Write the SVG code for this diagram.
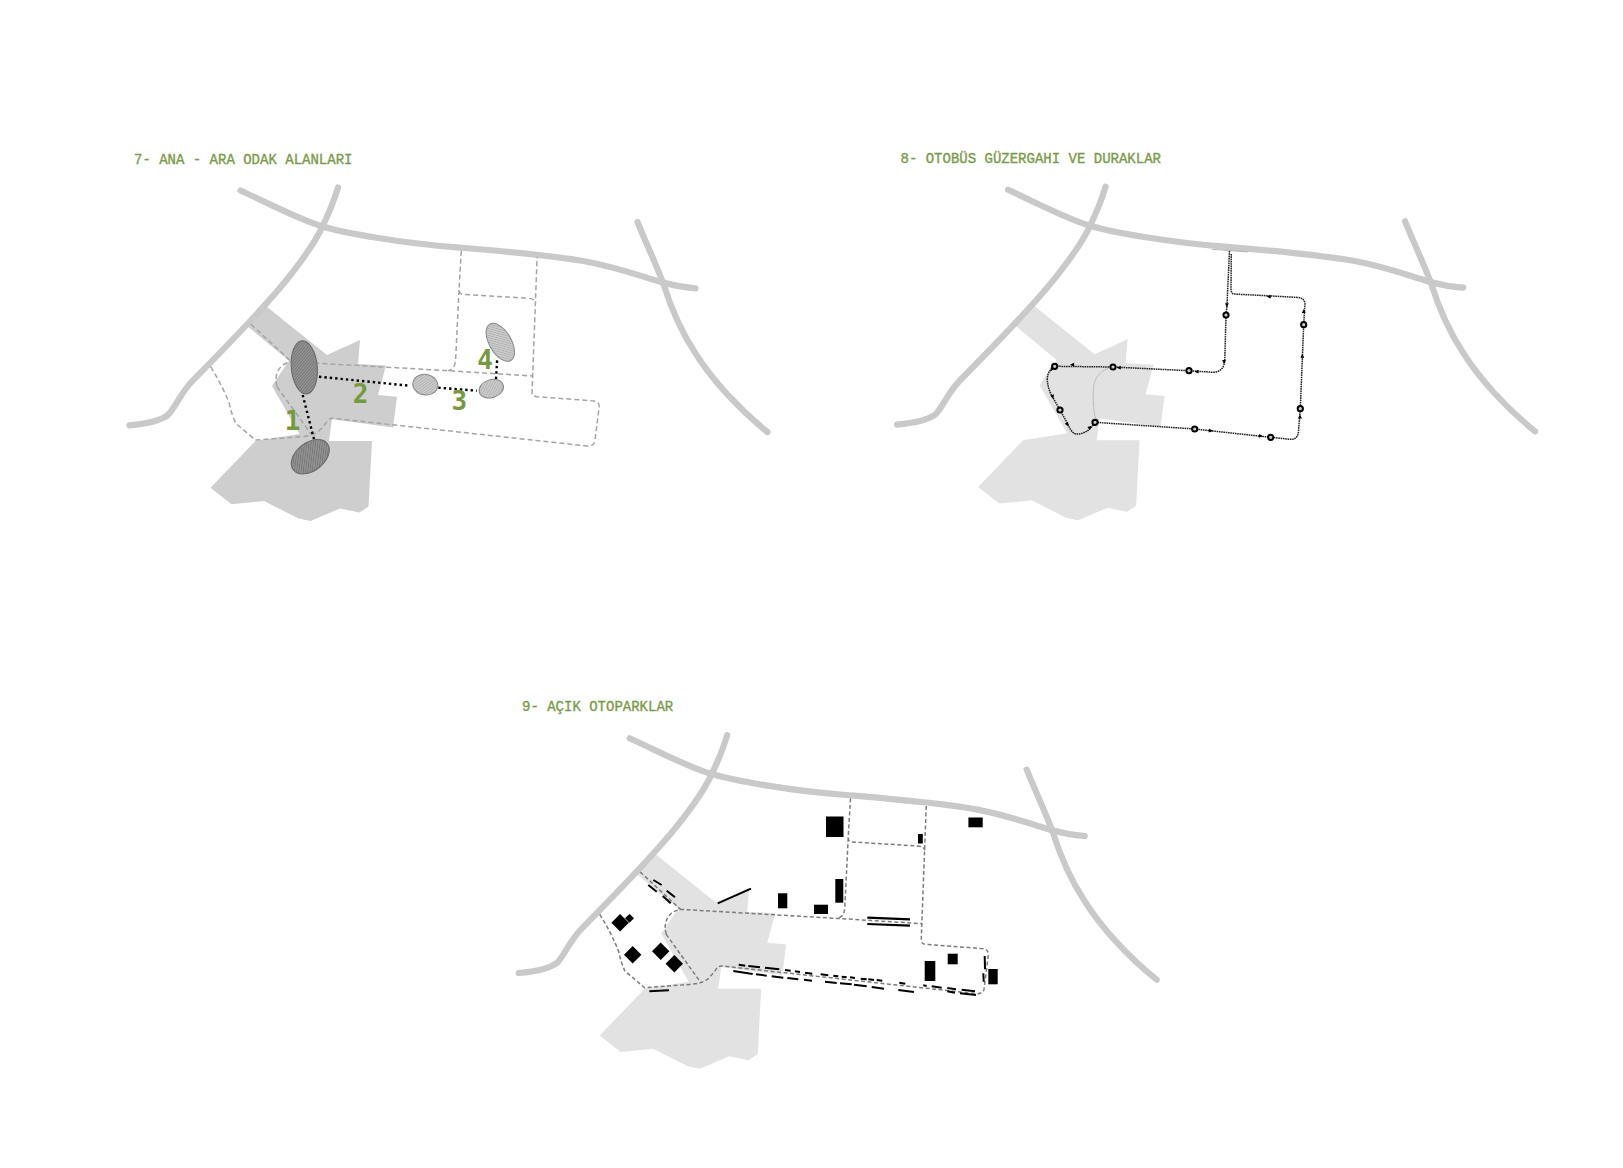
<svg xmlns="http://www.w3.org/2000/svg" xmlns:xlink="http://www.w3.org/1999/xlink" width="1623" height="1168" viewBox="0 0 1623 1168">
<style>
.title{font-family:"Liberation Mono",monospace;font-size:14px;fill:#7a9a4a;stroke:#7a9a4a;stroke-width:.35}
.num{font-family:"DejaVu Sans Mono",monospace;font-size:26px;font-weight:bold;fill:#76993f;text-anchor:middle}
.road{fill:none;stroke:#c9c9c9;stroke-width:6.2;stroke-linecap:round;stroke-linejoin:round}
.dash{fill:none;stroke:#a4a4a4;stroke-width:1.5;stroke-dasharray:5 3}
.dash3{fill:none;stroke:#7c7c7c;stroke-width:1.5;stroke-dasharray:4 2.5}
.dot{fill:none;stroke:#000;stroke-width:2.4;stroke-dasharray:2.4 3}
.route{fill:none;stroke:#222;stroke-width:1.5;stroke-dasharray:1.6 .7}
.stop{fill:#ccc;stroke:#000;stroke-width:2}
.pk{fill:none;stroke:#000;stroke-width:2}
.e1{fill:url(#h1);stroke:#666;stroke-width:1}
.e2{fill:url(#h2);stroke:#888;stroke-width:1}
</style>
<defs>
<pattern id="h1" width="2.2" height="2.2" patternUnits="userSpaceOnUse" patternTransform="rotate(-45)"><rect width="2.2" height="2.2" fill="#929292"/><rect width="2.2" height=".8" fill="#767676"/></pattern>
<pattern id="h2" width="2.2" height="2.2" patternUnits="userSpaceOnUse" patternTransform="rotate(-45)"><rect width="2.2" height="2.2" fill="#cccccc"/><rect width="2.2" height=".8" fill="#b0b0b0"/></pattern>
<g id="roads" class="road">
<path d="M240.500 190.500C270 204 300 220 322.500 226.400C345 233 400 243 456.500 247.300C500 251 550 255 587 261.700C620 268 640 276 663 282.600C675 286 685 287.500 695.500 288.300"/>
<path d="M338 187.400C334 201 329 213 322.500 226.400C314 245 302 260 292 273C270 302 225 348 192 381.400C180 394 175 408 168 415C160 421 145 424 129.500 425.300"/>
<path d="M637.500 222C646 243 655 262 663 282.600C670 305 680 330 695.500 353.400C712 380 740 410 767.500 432"/>
</g>
<path id="site" d="M265.500 305.700L327 355L360 340L358 364L386 365.500L378 395L397 396.700L393 427.400L332 419.300L329 441L372 441L368.500 506.500L359.500 512.500L340 508.500L310.500 521L298.500 518.500L264 501L231.500 504.300L210.500 487.700L255.500 441L299.500 434L272 386L276 380L289 360.800L248 326.700Z"/>
<path id="lanes" d="M461.300 250.700L459 290Q459 294 463 294.300L528.500 298.300Q535 299 535.800 302.700M459 290L455.600 360Q455 369 448.200 370.700M251 324.300L291.300 361.700M210.600 366.700Q222 385 229.300 403.300Q232 416 235.800 423.300L255.300 440L300.800 436.700Q312 436 318.200 431.700Q323 427 326.800 421.700Q329 418 333.300 418.300L587 446Q594 446 594.800 441.700L599.200 406.700Q599.500 401 591.400 400.700L537 396.700Q532 396 532 393.300L537.100 256.700M277 386.700Q275 378 277 373.300Q280 364 291.300 361.700L448.200 370.700L532.800 376M277 386.700L311.700 435"/>
<path id="a" d="M2.400 0L-1.800 -1.900L-1.800 1.900Z"/>
</defs>

<text class="title" x="134" y="163.500">7- ANA - ARA ODAK ALANLARI</text>
<text class="title" x="900.500" y="162.500">8- OTOBÜS GÜZERGAHI VE DURAKLAR</text>
<text class="title" x="522" y="710.500">9- AÇIK OTOPARKLAR</text>

<g id="panel-7">
<use href="#site" fill="#cecece"/>
<use href="#roads"/>
<use href="#lanes" class="dash"/>
<g id="connectors-7" class="dot">
<path d="M319 376.700L409.300 385.700"/>
<path d="M438.300 387.700L476.700 390.700"/>
<path d="M496 379L497.300 357.300"/>
<path d="M302.700 395L314 439.300"/>
</g>
<g id="focus-1"><ellipse class="e1" cx="304.300" cy="367.300" rx="13" ry="26.700" transform="rotate(-5 304.300 367.300)"/><ellipse class="e1" cx="310.300" cy="456.700" rx="21.500" ry="14" transform="rotate(-38 310.300 456.700)"/><text class="num" x="292.700" y="429.500">1</text></g>
<g id="focus-2"><ellipse class="e2" cx="425.300" cy="384.700" rx="12.500" ry="10.300" transform="rotate(10 425.300 384.700)"/><text class="num" x="360.700" y="403">2</text></g>
<g id="focus-3"><ellipse class="e2" cx="491.300" cy="388.700" rx="12.500" ry="9" transform="rotate(-18 491.300 388.700)"/><text class="num" x="459.300" y="410">3</text></g>
<g id="focus-4"><ellipse class="e2" cx="500.300" cy="342.300" rx="21" ry="11" transform="rotate(60 500.300 342.300)"/><text class="num" x="485" y="369">4</text></g>
</g>

<g id="panel-8">
<g transform="translate(767.600 -0.700)">
<use href="#site" fill="#e2e2e2"/>
<use href="#roads"/>
</g>
<path d="M1211.700 249.300L1247.700 252" fill="none" stroke="#999" stroke-width=".7"/>
<g id="connectors-8">
<path d="M1113 367Q1098 370 1094 384Q1092 400 1095 416.700Q1096 420 1100 420" fill="none" stroke="#aaa" stroke-width="1" stroke-dasharray="1.500 .7"/>
<path class="route" d="M1229.500 251L1226.900 306.700L1226 315L1224.800 360Q1224 372 1213.300 372.300L1189 370.700L1113 367L1054.700 366.300Q1047 371 1047.300 380Q1048 390 1053.300 398.300L1060 410L1068.300 425Q1072 434 1076.700 434Q1088 434 1095 422.300L1194.700 429L1270.700 437.300L1290 439.300Q1298 440 1298.500 431L1300.300 408.700L1303.700 324.700L1305 303.300Q1304 297.500 1296.300 297.300L1233.400 294Q1231 293 1231 289L1231.300 253.300"/>
<use href="#a" transform="translate(1072.300 364.700) rotate(180)"/>
<use href="#a" transform="translate(1119 367.700) rotate(180)"/>
<use href="#a" transform="translate(1196.700 371.700) rotate(180)"/>
<use href="#a" transform="translate(1224 361.700) rotate(90)"/>
<use href="#a" transform="translate(1302.300 356) rotate(-90)"/>
<use href="#a" transform="translate(1300 416.700) rotate(-90)"/>
<use href="#a" transform="translate(1210.700 430.700) rotate(6)"/>
<use href="#a" transform="translate(1260.700 436) rotate(6)"/>
<use href="#a" transform="translate(1067.300 424.300) rotate(60)"/>
<use href="#a" transform="translate(1090 427.300) rotate(-40)"/>
<use href="#a" transform="translate(1052.700 396.700) rotate(70)"/>
<use href="#a" transform="translate(1051.700 369.300) rotate(120)"/>
<use href="#a" transform="translate(1226.900 305) rotate(90)"/>
<use href="#a" transform="translate(1269 296.700) rotate(180)"/>
<use href="#a" transform="translate(1303.700 311.300) rotate(-90)"/>
</g>
<g id="stops">
<circle class="stop" cx="1054.700" cy="366.300" r="2.600"/>
<circle class="stop" cx="1113" cy="367" r="2.600"/>
<circle class="stop" cx="1189" cy="370.700" r="2.600"/>
<circle class="stop" cx="1060" cy="410" r="2.600"/>
<circle class="stop" cx="1095" cy="422.300" r="2.600"/>
<circle class="stop" cx="1194.700" cy="429" r="2.600"/>
<circle class="stop" cx="1270.700" cy="437.300" r="2.600"/>
<circle class="stop" cx="1300.300" cy="408.700" r="2.600"/>
<circle class="stop" cx="1226" cy="315" r="2.600"/>
<circle class="stop" cx="1303.700" cy="324.700" r="2.600"/>
</g>
</g>

<g id="panel-9">
<g transform="translate(389.200 547.700)">
<use href="#site" fill="#e2e2e2"/>
<use href="#roads"/>
<use href="#lanes" class="dash3"/>
</g>
<g id="parking-blocks">
<rect x="826" y="816.500" width="17.500" height="20.500"/>
<rect x="918" y="834" width="4.800" height="9.500"/>
<rect x="968.400" y="817.500" width="14.300" height="9.800"/>
<rect x="835.300" y="879" width="8" height="23.700"/>
<rect x="778" y="893.300" width="9.300" height="15"/>
<rect x="814" y="904.700" width="14" height="9.300"/>
<rect x="924.700" y="961" width="10.600" height="20"/>
<rect x="947.700" y="953.700" width="10" height="10.600"/>
<rect x="988.300" y="969" width="9.400" height="15.300"/>
<path d="M620.100 914L628.800 922.700L620.100 931.400L611.400 922.700Z"/>
<path d="M629.500 913.900L634 918.300L629.500 922.700L625 918.300Z"/>
<path d="M632.700 946L641.400 954.700L632.700 963.400L624 954.700Z"/>
<path d="M660.700 942.600L669.400 951.300L660.700 960L652 951.300Z"/>
<path d="M674.300 955L683 963.700L674.300 972.400L665.600 963.700Z"/>
</g>
<g id="parking-lines" class="pk">
<path d="M738.700 964.700L745.300 965.700M748.300 966L760 967.300M765 967.700L779.300 969.300M785 970L790.700 970.700M795 971.300L800 972M805 972.700L812.300 973.700M820.700 974.300L828.300 975.300M833.300 975.700L838.300 976.300M841.700 976.700L846.700 977.300M850 977.300L855 978M860.700 978.700L866.700 979.300M868.300 979.300L874 980M876.700 980L882.300 980.700M899.300 982.700L905.300 983.700M923.300 985.300L926.700 986M931.700 986.300L941.700 987.700M947.300 988L956 989.300M961.700 989.700L975 991.300"/>
<path d="M733.300 971L752.700 974M756 974.300L766.700 975.700M771.700 976.300L783.300 977.700M787.300 978L798.300 979.300M804 979.700L812 980.700M825 981.700L836.700 983M840 983.300L851.700 984.300M854 984.700L866.700 986.300M871.700 987L884 988.700M898.300 990L914 992M947.300 991.300L955 992.700M960 993.300L976 995"/>
<path d="M649.300 991.300L669 990.300"/>
<path d="M717.700 903.300L751 888.700"/>
<path d="M867.300 917.700L910 919.300M867.300 924L910 925.700" stroke-width="2.200"/>
<path d="M984.700 956L985 969.300M983.300 973.300L983.700 981.700"/>
<path d="M653.300 880L661.700 885M648.300 885L656.700 891.700M666.700 890.700L675 897.300M662.700 896L670.700 903.300"/>
</g>
</g>
</svg>
